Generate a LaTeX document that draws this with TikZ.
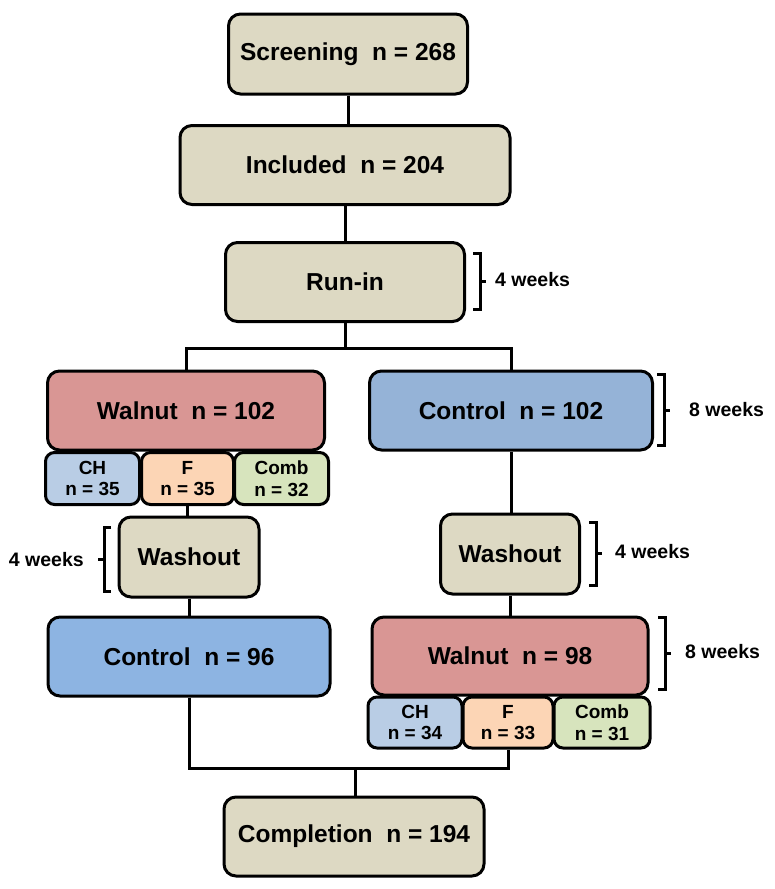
\documentclass[tikz,border=0pt]{standalone}
\usepackage{fontspec}
\setmainfont{Liberation Sans}
\definecolor{beige}{HTML}{DDD9C3}
\definecolor{walnut}{HTML}{D99694}
\definecolor{ctrlA}{HTML}{95B3D7}
\definecolor{ctrlB}{HTML}{8DB4E2}
\definecolor{chc}{HTML}{B9CDE5}
\definecolor{fc}{HTML}{FCD5B5}
\definecolor{combc}{HTML}{D7E4BD}
\begin{document}
\begin{tikzpicture}[x=1pt,y=-1pt,
  box/.style={draw=black,line width=3pt,rounded corners=12pt,inner sep=0pt,
    font=\fontsize{24.5}{28}\selectfont\bfseries,text=black},
  sub/.style={draw=black,line width=3pt,rounded corners=9pt,inner sep=0pt,align=center,
    font=\fontsize{19}{21.5}\selectfont\bfseries,minimum height=52pt},
  conn/.style={line width=3pt},
  brk/.style={line width=3pt},
  wk/.style={font=\fontsize{19.5}{22}\selectfont\bfseries,inner sep=0pt}]
\useasboundingbox (0,0) rectangle (774,889);
\node[box,fill=beige,minimum width=239pt,minimum height=80pt] (scr) at (348,54) {Screening~~n = 268};
\node[box,fill=beige,minimum width=330pt,minimum height=79pt] (inc) at (345,165) {Included~~n = 204};
\node[box,fill=beige,minimum width=239pt,minimum height=79pt] (run) at (345,282) {Run-in};
\node[box,fill=walnut,minimum width=277pt,minimum height=79pt] (w1) at (186,410.5) {Walnut~~n = 102};
\node[sub,fill=chc,minimum width=94pt] (ch1) at (92.5,478.5) {CH\\n = 35};
\node[sub,fill=fc,minimum width=92pt] (f1) at (187.5,478.5) {F\\n = 35};
\node[sub,fill=combc,minimum width=94pt] (cb1) at (281.5,478.5) {Comb\\n = 32};
\node[box,fill=ctrlA,minimum width=283pt,minimum height=79pt] (c1) at (511,410.5) {Control~~n = 102};
\node[box,fill=beige,minimum width=140pt,minimum height=80pt] (wa1) at (189,557) {Washout};
\node[box,fill=ctrlB,minimum width=282pt,minimum height=79pt] (c2) at (189,656.5) {Control~~n = 96};
\node[box,fill=beige,minimum width=139pt,minimum height=80pt] (wa2) at (510,554) {Washout};
\node[box,fill=walnut,minimum width=276pt,minimum height=78pt] (w2) at (510,656) {Walnut~~n = 98};
\node[sub,fill=chc,minimum width=94pt,minimum height=51pt] (ch2) at (415,722.5) {CH\\n = 34};
\node[sub,fill=fc,minimum width=90pt,minimum height=51pt] (f2) at (508,722.5) {F\\n = 33};
\node[sub,fill=combc,minimum width=96pt,minimum height=51pt] (cb2) at (602,722.5) {Comb\\n = 31};
\node[box,fill=beige,minimum width=260pt,minimum height=79pt] (comp) at (354,836.5) {Completion~~n = 194};
% connectors
\coordinate (j1) at (345,348);
\coordinate (j2) at (355,768);
\draw[conn] (scr.south) -- (scr.south |- inc.north);
\draw[conn] (inc.south) -- (run.north);
\draw[conn] (run.south) -- (j1);
\draw[conn] (w1.north) |- (j1) -| (c1.north);
\draw[conn] (f1.south) -- (f1.south |- wa1.north);
\draw[conn] (wa1.south) -- (c2.north);
\draw[conn] (c1.south) -- (c1.south |- wa2.north);
\draw[conn] (wa2.south) -- (wa2.south |- w2.north);
\draw[conn] (c2.south) |- (j2) -| (f2.south);
\draw[conn] (j2) -- (j2 |- comp.north);
% brackets and labels
\draw[brk] (473,253) -- (480,253) -- (480,309) -- (473,309);
\draw[brk] (480,281) -- (486,281);
\node[wk,anchor=west] (l1) at (495,280) {4 weeks};
\draw[brk] (657,374) -- (664,374) -- (664,445) -- (657,445);
\draw[brk] (664,410) -- (670,410);
\node[wk,anchor=west] (l2) at (689,410) {8 weeks};
\draw[brk] (111,527) -- (104,527) -- (104,591) -- (111,591);
\draw[brk] (104,559) -- (98,559);
\node[wk,anchor=east] (l3) at (84,560) {4 weeks};
\draw[brk] (589,522) -- (596,522) -- (596,585) -- (589,585);
\draw[brk] (596,553) -- (602,553);
\node[wk,anchor=west] (l4) at (615,552) {4 weeks};
\draw[brk] (658,617) -- (665,617) -- (665,689) -- (658,689);
\draw[brk] (665,653) -- (671,653);
\node[wk,anchor=west] (l5) at (685,652) {8 weeks};
\end{tikzpicture}
\end{document}
